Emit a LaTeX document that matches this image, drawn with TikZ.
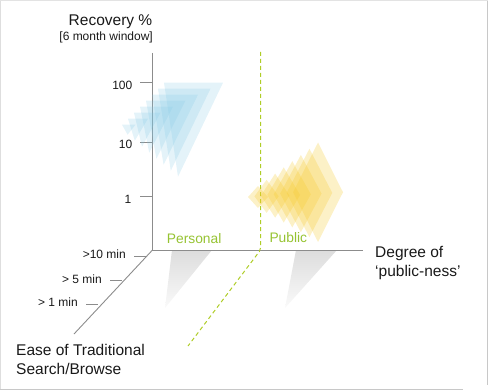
\documentclass[tikz,border=0pt]{standalone}
\usepackage{fontspec}
\setmainfont{Liberation Sans}
\definecolor{axisgray}{RGB}{140,140,140}
\definecolor{framegray}{RGB}{200,200,200}
\definecolor{dashgreen}{RGB}{175,205,40}
\definecolor{txtgreen}{RGB}{150,195,50}
\definecolor{triblue}{RGB}{130,200,228}
\definecolor{diagold}{RGB}{245,200,40}
\definecolor{txtdark}{RGB}{25,25,25}
\begin{document}
\begin{tikzpicture}[x=1pt,y=-1pt,
  axisline/.style={draw=axisgray, line width=0.9pt},
  tickline/.style={draw=axisgray, line width=0.9pt},
  bigtxt/.style={inner sep=0pt, text=txtdark, font=\fontsize{15.5}{19}\selectfont},
  smalltxt/.style={inner sep=0pt, text=txtdark, font=\fontsize{12}{14}\selectfont},
  grntxt/.style={inner sep=0pt, text=txtgreen, font=\fontsize{13.8}{16}\selectfont},
  greendash/.style={draw=dashgreen, line width=1pt, dash pattern=on 4pt off 3pt, rounded corners=2pt},
  tri/.style={fill=triblue, fill opacity=0.22},
  dia/.style={fill=diagold, fill opacity=0.26},
  shadowshape/.style={top color=gray!27, bottom color=gray!4, draw=none}
]
\useasboundingbox (0,0) rectangle (489,390);
% frame
\draw[framegray, line width=0.8pt] (487.5,0) -- (487.5,385);
\draw[framegray, line width=0.8pt] (0,389) -- (463,389);
\draw[framegray!60, line width=0.8pt] (0.5,0) -- (0.5,389);
\draw[framegray!50, line width=0.8pt] (0,0.5) -- (487.5,0.5);

% named coordinates
\coordinate (O) at (152.5,250);
\coordinate (ytop) at (152.5,53);
\coordinate (xend) at (362.7,250);
\coordinate (zend) at (74,334);
\coordinate (gtop) at (260.5,52);
\coordinate (gknee) at (260.5,250);
\coordinate (gend) at (188,346);

% shadows
\shade[shadowshape] (172,250) -- (212,250) -- (165,308) -- cycle;
\shade[shadowshape] (296,250) -- (337,250) -- (285,308) -- cycle;

% axes
\draw[axisline] (ytop) -- (O) -- (xend);
\draw[axisline] (O) -- (zend);

% y ticks
\coordinate (ya1) at (140,82.7);  \coordinate (yb1) at (152.5,82.7);
\coordinate (ya2) at (140,142);   \coordinate (yb2) at (152.5,142);
\coordinate (ya3) at (140,196.7); \coordinate (yb3) at (152.5,196.7);
\draw[tickline] (ya1) -- (yb1);
\draw[tickline] (ya2) -- (yb2);
\draw[tickline] (ya3) -- (yb3);
\node[smalltxt, anchor=east] (l100) at (132.5,85) {100};
\node[smalltxt, anchor=east] (l10) at (132.5,144.5) {10};
\node[smalltxt, anchor=east] (l1) at (131.5,199) {1};

% z ticks
\coordinate (za1) at (134,256.7); \coordinate (zb1) at (147,256.7);
\coordinate (za2) at (110,280.7); \coordinate (zb2) at (122,280.7);
\coordinate (za3) at (86,304);    \coordinate (zb3) at (98,304);
\draw[tickline] (za1) -- (zb1);
\draw[tickline] (za2) -- (zb2);
\draw[tickline] (za3) -- (zb3);
\node[smalltxt, anchor=east] (m10) at (126,254.3) {>10 min};
\node[smalltxt, anchor=east] (m5) at (102,279) {> 5 min};
\node[smalltxt, anchor=east] (m1) at (78,302.5) {> 1 min};

% green dashed divider
\draw[greendash] (gtop) -- (gknee) -- (gend);

% blue triangles
\foreach \i in {0,...,7}{
  \pgfmathsetmacro{\tlx}{164-6*\i}
  \pgfmathsetmacro{\tly}{82.7+6*\i}
  \pgfmathsetmacro{\trx}{\tlx+59-6.5*\i}
  \pgfmathsetmacro{\tipx}{\tlx+14-1.2*\i}
  \pgfmathsetmacro{\tipy}{\tly+94-12*\i}
  \fill[tri] (\tlx,\tly) -- (\trx,\tly) -- (\tipx,\tipy) -- cycle;
}

% yellow diamonds
\foreach \i in {0,...,7}{
  \pgfmathsetmacro{\t}{\i/7}
  \pgfmathsetmacro{\cx}{318-60*\t}
  \pgfmathsetmacro{\ty}{142.5+43.5*\t}
  \pgfmathsetmacro{\by}{242-34*\t}
  \pgfmathsetmacro{\hw}{25-15*\t}
  \pgfmathsetmacro{\cy}{(\ty+\by)/2}
  \fill[dia] (\cx,\ty) -- (\cx+\hw,\cy) -- (\cx,\by) -- (\cx-\hw,\cy) -- cycle;
}

% labels
\node[bigtxt, anchor=base east] (ylab) at (152.5,26) {Recovery \%};
\node[smalltxt, anchor=base east] (ysub) at (153,41) {[6 month window]};
\node[grntxt, anchor=base west] (pers) at (166.7,243.3) {Personal};
\node[grntxt, anchor=base west] (publ) at (269.3,242.7) {Public};
\node[bigtxt, anchor=base west] (deg1) at (375,257.3) {Degree of};
\node[bigtxt, anchor=base west] (deg2) at (375,276) {‘public-ness’};
\node[bigtxt, anchor=base west] (ease1) at (16,355) {Ease of Traditional};
\node[bigtxt, anchor=base west] (ease2) at (16,374) {Search/Browse};
\end{tikzpicture}
\end{document}
